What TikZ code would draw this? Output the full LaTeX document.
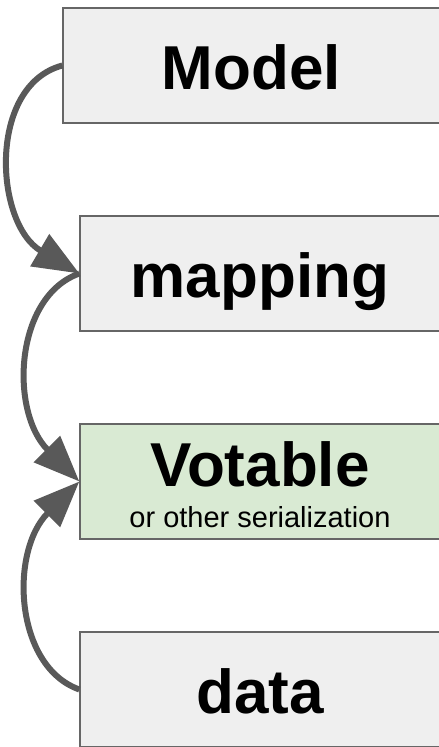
\documentclass[tikz,border=0pt]{standalone}
\usepackage{fontspec}
\setmainfont{Liberation Sans}
\usetikzlibrary{arrows.meta}
\definecolor{boxgray}{HTML}{EFEFEF}
\definecolor{boxgreen}{HTML}{D9EAD3}
\definecolor{edgegray}{HTML}{666666}
\definecolor{arrowgray}{HTML}{595959}

\begin{document}
\begin{tikzpicture}[x=1pt,y=1pt,
  box/.style={draw=edgegray, line width=1.3pt, fill=boxgray, minimum width=360pt,
    minimum height=115pt, inner sep=0pt, text height=49pt, text depth=0pt,
    font=\fontsize{62}{74}\selectfont\bfseries},
  flow/.style={draw=arrowgray, line width=6pt, -{Triangle[length=46pt,width=36pt]}}]
\useasboundingbox (0,0) rectangle (439,747);
\node[box, minimum width=377pt] (model) at (251.5,681.5) {Model};
\node[box] (mapping) at (260,473.5) {mapping};
\node[box, fill=boxgreen, text height=45pt, text depth=35pt] (votable) at (260,265.5) {Votable};
\node[font=\fontsize{29}{35}\selectfont, anchor=base, inner sep=0pt] (serial)
  at ([yshift=-46.5pt]votable.center) {or other serialization};
\node[box] (data) at (260,57.5) {data};
% the three links
\draw[flow] (model.west) .. controls +(-75,-20) and +(-85,50) .. (mapping.west);
\draw[flow] (mapping.west) .. controls +(-65,-23) and +(-70,70) .. (votable.west);
\draw[flow] (data.west) .. controls +(-65,23) and +(-70,-70) .. (votable.west);
\end{tikzpicture}
\end{document}
